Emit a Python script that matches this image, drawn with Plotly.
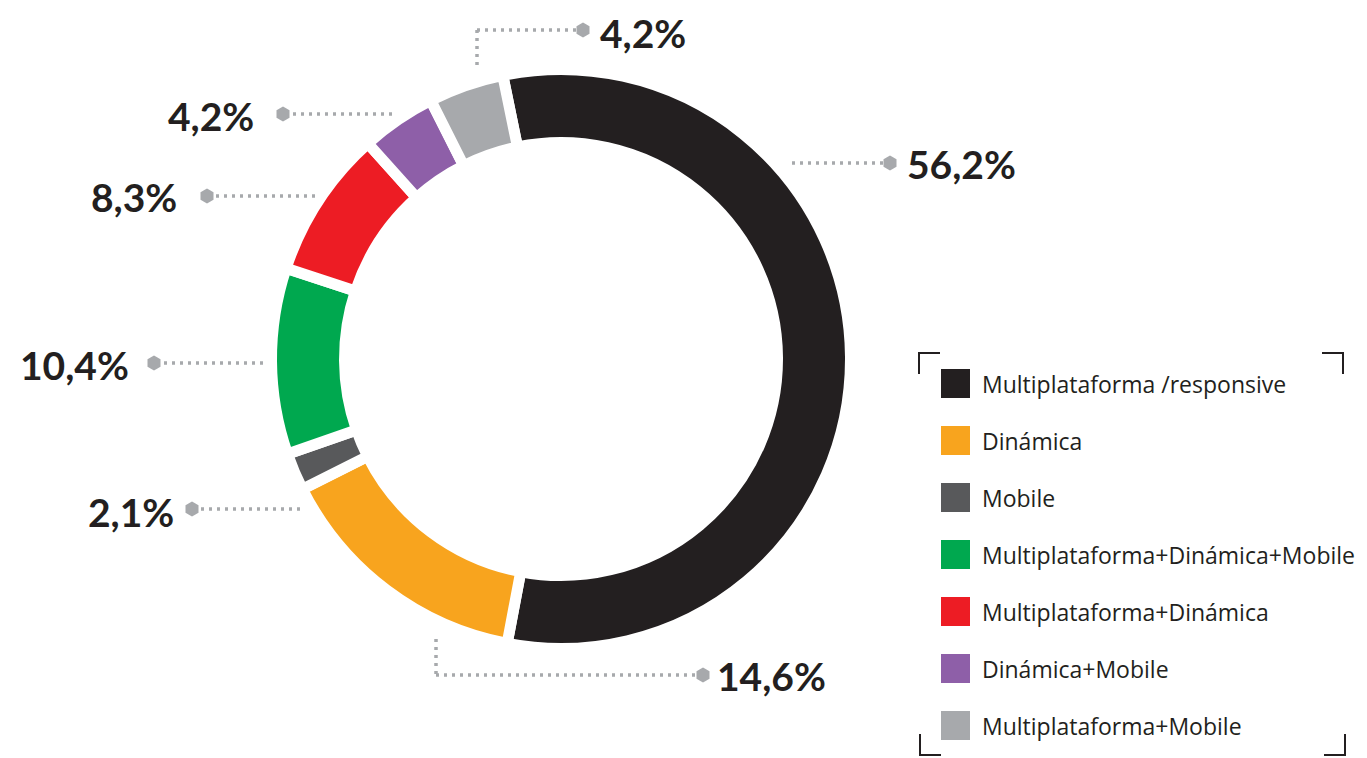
import plotly.graph_objects as go

# ---- data ----
categories = [
    "Multiplataforma /responsive",
    "Dinámica",
    "Mobile",
    "Multiplataforma+Dinámica+Mobile",
    "Multiplataforma+Dinámica",
    "Dinámica+Mobile",
    "Multiplataforma+Mobile",
]
values = [56.2, 14.6, 2.1, 10.4, 8.3, 4.2, 4.2]
value_labels = ["56,2%", "14,6%", "2,1%", "10,4%", "8,3%", "4,2%", "4,2%"]
colors = ["#231f20", "#f8a41e", "#58595b", "#00a84f", "#ed1c24", "#8e5fa8", "#a7a9ac"]

# page body has an 8px margin: figure is sized so its coordinates map to window pixels
OFF = 8
W, H = 1367 - OFF, 758 - OFF
TXT = "#231f20"
DOT = "#a7a9ac"

# donut geometry (window pixels)
cx, cy = 561, 359
r_out = 284
gap = 11
R = r_out + gap / 2
hole = (222 - gap / 2) / R

def px(x):
    return (x - OFF) / W

def py(y):
    return (H - (y - OFF)) / H

fig = go.Figure()

fig.add_trace(go.Pie(
    labels=categories, values=values, sort=False, direction="clockwise",
    rotation=-11.6, hole=hole,
    marker=dict(colors=colors, line=dict(color="white", width=gap)),
    textinfo="none", hoverinfo="label+percent", showlegend=False,
    domain=dict(x=[px(cx - R), px(cx + R)], y=[py(cy + R), py(cy - R)]),
))

leaders = [
    ([(792, 163), (884, 163)], (890, 163), 905, 164, "left"),
    ([(436, 639), (436, 675), (696, 675)], (703, 675), 715, 676, "left"),
    ([(300, 509), (198, 509)], (192, 509), 176, 512, "right"),
    ([(263, 363), (160, 363)], (154, 363), 131, 365, "right"),
    ([(315, 196), (213, 196)], (207, 196), 179, 197, "right"),
    ([(392, 114), (289, 114)], (283, 114), 256, 116, "right"),
    ([(477, 65), (477, 30), (576, 30)], (583, 30), 598, 33, "left"),
]

shapes = []
hex_x, hex_y = [], []
for i, (pts, hx, tx, ty, xa) in enumerate(leaders):
    for (x0, y0), (x1, y1) in zip(pts[:-1], pts[1:]):
        shapes.append(dict(type="line", xref="x", yref="y", x0=x0, y0=y0, x1=x1, y1=y1,
                           line=dict(color=DOT, width=3.5, dash="3px,5px")))
    hex_x.append(hx[0]); hex_y.append(hx[1])
    fig.add_annotation(x=tx, y=ty, xref="x", yref="y", text="<b>%s</b>" % value_labels[i],
                       showarrow=False, xanchor=xa, yanchor="middle",
                       font=dict(family="Lato", size=39, color=TXT))

fig.add_trace(go.Scatter(x=hex_x, y=hex_y, mode="markers", hoverinfo="skip", showlegend=False,
                         marker=dict(symbol="hexagon", size=15, color=DOT)))

# legend (manual)
row0, step = 383.5, 57
for i, (lab, col) in enumerate(zip(categories, colors)):
    yc = row0 + i * step
    shapes.append(dict(type="rect", xref="x", yref="y", x0=941, x1=970, y0=yc - 14.5, y1=yc + 14.5,
                       fillcolor=col, line=dict(width=0)))
    fig.add_annotation(x=980, y=yc, xref="x", yref="y", text=lab, showarrow=False,
                       xanchor="left", yanchor="middle",
                       font=dict(family="Open Sans", size=23, color=TXT))

# corner brackets
br = dict(color=TXT, width=2)
for (xc, yc, dx, dy) in [(919, 353, 21, 21), (1343, 353, -21, 21), (920, 755, 21, -21), (1345, 755, -21, -21)]:
    shapes.append(dict(type="path", xref="x", yref="y",
                       path="M %s %s L %s %s L %s %s" % (xc + dx, yc, xc, yc, xc, yc + dy),
                       line=br))

fig.update_layout(
    width=W, height=H, margin=dict(l=0, r=0, t=0, b=0),
    paper_bgcolor="white", plot_bgcolor="rgba(0,0,0,0)",
    xaxis=dict(range=[OFF, OFF + W], visible=False, fixedrange=True),
    yaxis=dict(range=[OFF + H, OFF], visible=False, fixedrange=True),
    shapes=shapes, showlegend=False,
)

fig.write_html("out.html")
